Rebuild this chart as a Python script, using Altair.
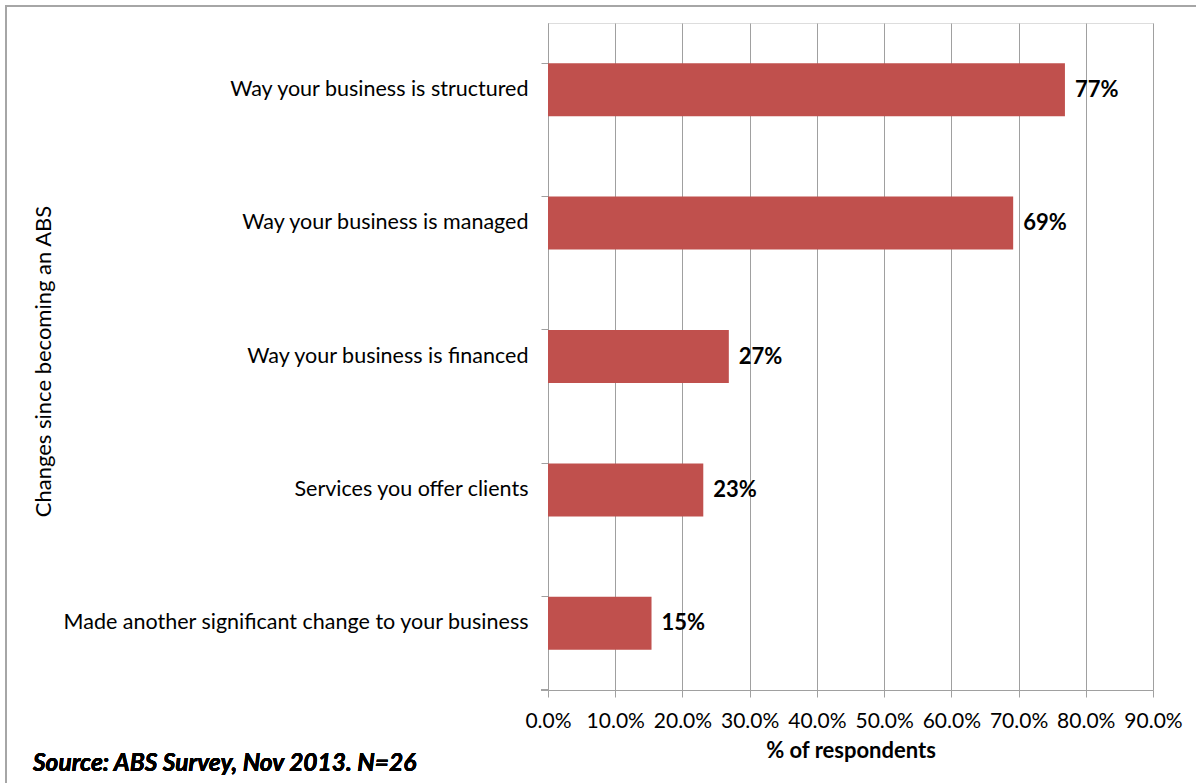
import altair as alt
import pandas as pd

categories = [
    "Way your business is structured",
    "Way your business is managed",
    "Way your business is financed",
    "Services you offer clients",
    "Made another significant change to your business",
]
values = [0.769, 0.692, 0.269, 0.231, 0.154]
labels = ["77%", "69%", "27%", "23%", "15%"]
x_ticks = [0, 0.1, 0.2, 0.3, 0.4, 0.5, 0.6, 0.7, 0.8, 0.9]

df = pd.DataFrame({"cat": categories, "val": values, "lab": labels})

FONT = "Lato"
W, H = 605, 667
L, T = 548, 23

xscale = alt.Scale(domain=[0, 0.9], nice=False, zero=True)
yscale = alt.Scale(domain=categories, paddingInner=0.6, paddingOuter=0.3)

frame = alt.Chart(df).mark_rect(fill=None, stroke="#A6A6A6", strokeWidth=2).encode(
    x=alt.value(6 - L), x2=alt.value(1250 - L), y=alt.value(6 - T), y2=alt.value(850 - T)
)

bars = alt.Chart(df).mark_bar(color="#C0504D", size=53).encode(
    x=alt.X("val:Q", scale=xscale,
            axis=alt.Axis(values=x_ticks, format=".1%", title="% of respondents",
                          grid=True, gridColor="#A0A0A0", gridWidth=1,
                          domainColor="#A0A0A0", tickColor="#A0A0A0", tickSize=7,
                          labelFont=FONT, labelFontSize=21, labelColor="#000000",
                          labelOverlap=False, labelFlush=False, labelPadding=13,
                          titleFont=FONT, titleFontSize=22,
                          titleFontWeight="bold", titleColor="#000000", titlePadding=9)),
    y=alt.Y("cat:N", scale=yscale, sort=categories,
            axis=alt.Axis(title="Changes since becoming an ABS", bandPosition=0,
                          domainColor="#A0A0A0", tickColor="#A0A0A0", tickSize=7,
                          labelFont=FONT, labelFontSize=21.5, labelColor="#000000",
                          labelPadding=13, labelLimit=600,
                          titleFont=FONT, titleFontSize=22, titleFontWeight="normal",
                          titleColor="#000000", titleX=43 - L, titleY=361 - T,
                          titleAngle=-90, titleAlign="center", titleBaseline="middle")),
)

text = alt.Chart(df).mark_text(align="left", dx=10, font=FONT, fontSize=22,
                               fontWeight="bold", color="#000000").encode(
    x="val:Q", y=alt.Y("cat:N", sort=categories), text="lab:N"
)

bottom_tick = alt.Chart(df).mark_rule(color="#A0A0A0").encode(
    x=alt.value(-7), x2=alt.value(0), y=alt.value(H)
)

source = alt.Chart(df).mark_text(align="left", baseline="middle", font=FONT, fontSize=24.5,
                                 fontWeight="bold", fontStyle="italic", color="#000000").encode(
    x=alt.value(33 - L), y=alt.value(764 - T), text=alt.value("Source: ABS Survey, Nov 2013. N=26")
)

chart = alt.layer(frame, bars, text, bottom_tick, source).properties(
    width=W, height=H,
    autosize=alt.AutoSizeParams(type="none"),
    padding={"left": L, "top": T, "right": 1196 - L - W, "bottom": 783 - T - H},
).configure_view(stroke=None).configure(background="#FFFFFF")

chart.save("out.html", embed_options={"renderer": "svg", "actions": False})
